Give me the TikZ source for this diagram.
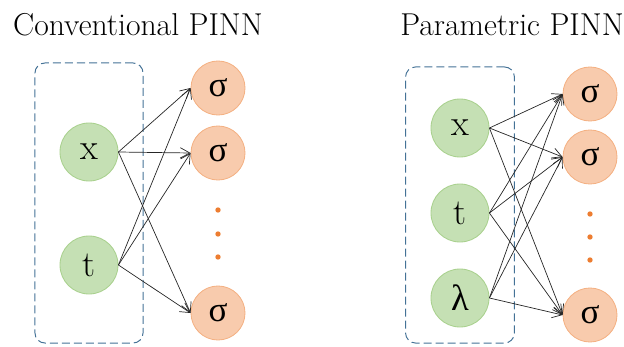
\documentclass[tikz,border=0pt]{standalone}
\usepackage{tikz}
\usepackage{fontspec}
\newfontfamily\grk{Liberation Serif}
\usetikzlibrary{positioning,calc,arrows.meta}
\definecolor{inGreen}{RGB}{197,224,180}
\definecolor{inGreenD}{RGB}{169,209,142}
\definecolor{hidOrange}{RGB}{248,203,173}
\definecolor{hidOrangeD}{RGB}{244,177,131}
\definecolor{dotOrange}{RGB}{237,125,49}
\definecolor{boxBlue}{RGB}{68,114,150}

\begin{document}
\begin{tikzpicture}[x=0.025cm,y=-0.025cm,
    inp/.style={circle,fill=inGreen,draw=inGreenD,line width=0.6pt,
                minimum size=1.45cm,inner sep=0pt,font=\fontsize{26}{30}\selectfont},
    hid/.style={circle,fill=hidOrange,draw=hidOrangeD,line width=0.6pt,
                minimum size=1.35cm,inner sep=0pt,font=\fontsize{25}{30}\selectfont\grk},
    inbox/.style={draw=boxBlue,line width=0.7pt,dash pattern=on 2mm off 1mm,
                  rounded corners=2.5mm},
    conn/.style={-{Straight Barb[length=2.4mm,width=2.6mm]},line width=0.5pt,black!85},
    ttl/.style={font=\fontsize{22.5}{26}\selectfont}]
  \useasboundingbox (0,0) rectangle (624,347);

  % conventional PINN
  \node[ttl] (tl) at (138,25) {Conventional PINN};
  \node[inbox,minimum width=2.7cm,minimum height=7cm] (bl) at (89,203) {};
  \node[inp] (xl) at (89,152) {x};
  \node[inp] (tl2) at (89,265) {t};
  \node[hid] (la) at (218,88) {σ};
  \node[hid] (lb) at (218,153) {σ};
  \node[hid] (lc) at (218,313) {σ};
  \foreach \y in {210,234,257}
    \fill[dotOrange] (218,\y) circle (1.9pt);
  \foreach \s in {xl,tl2}
    \foreach \d in {la,lb,lc}
      \draw[conn] (\s.east) -- (\d.west);

  % parametric PINN
  \node[ttl] (tr) at (512,25) {Parametric PINN};
  \node[inbox,minimum width=2.72cm,minimum height=6.9cm] (br) at (460,205) {};
  \node[inp] (xr) at (460,128) {x};
  \node[inp] (tr2) at (460,213) {t};
  \node[inp,font=\fontsize{26}{30}\selectfont\grk] (lr) at (460,298) {λ};
  \node[hid] (ra) at (590,94) {σ};
  \node[hid] (rb) at (590,157) {σ};
  \node[hid] (rc) at (590,315) {σ};
  \foreach \y in {214,237,260}
    \fill[dotOrange] (590,\y) circle (1.9pt);
  \foreach \s in {xr,tr2,lr}
    \foreach \d in {ra,rb,rc}
      \draw[conn] (\s.east) -- (\d.west);
\end{tikzpicture}
\end{document}
